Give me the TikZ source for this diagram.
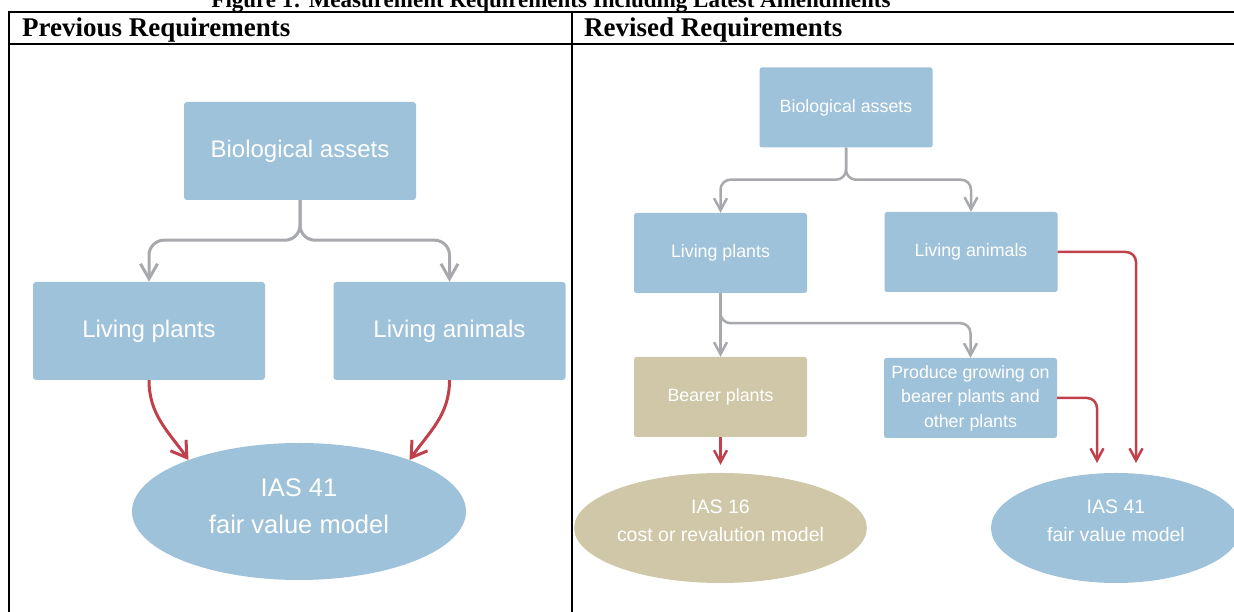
\documentclass[tikz,border=0pt]{standalone}
\usepackage{fontspec}
\setmainfont{Liberation Serif}
\newfontfamily\boxfont{Liberation Sans}
\usetikzlibrary{arrows.meta,shapes.geometric,calc}
\definecolor{boxblue}{HTML}{9EC2D9}
\definecolor{boxtan}{HTML}{CFC7A7}
\definecolor{arrgray}{HTML}{A7A9AC}
\definecolor{arrred}{HTML}{C0414B}
\begin{document}
\begin{tikzpicture}[x=1pt,y=1pt,
  boxL/.style={rectangle, rounded corners=3pt, fill=boxblue, text=white,
    minimum width=232pt, minimum height=98pt, inner sep=0pt,
    font=\boxfont\fontsize{24}{29}\selectfont},
  boxR/.style={rectangle, rounded corners=2.5pt, fill=boxblue, text=white,
    minimum width=173pt, minimum height=80pt, inner sep=0pt, align=center,
    font=\boxfont\fontsize{17.8}{24.5}\selectfont},
  ellBig/.style={ellipse, fill=boxblue, text=white, inner sep=0pt,
    minimum width=334pt, minimum height=137pt, align=center, text depth=11pt,
    font=\boxfont\fontsize{25.5}{36.7}\selectfont},
  ellSmall/.style={ellipse, fill=boxblue, text=white, inner sep=0pt,
    minimum width=250pt, minimum height=110pt, align=center, text depth=15pt,
    font=\boxfont\fontsize{19.5}{27.5}\selectfont},
  grayL/.style={draw=arrgray, line width=3pt, rounded corners=15pt,
    -{Straight Barb[length=15pt,width=17pt,line width=3pt]}},
  grayR/.style={draw=arrgray, line width=2.5pt, rounded corners=10pt,
    -{Straight Barb[length=12pt,width=13pt,line width=2.5pt]}},
  redL/.style={draw=arrred, line width=3pt,
    -{Straight Barb[length=15pt,width=19pt,line width=3pt]}},
  redR/.style={draw=arrred, line width=2.5pt, rounded corners=10pt,
    -{Straight Barb[length=12pt,width=13pt,line width=2.5pt]}},
  tablerule/.style={draw=black, line width=2pt}
]
\useasboundingbox (0,0) rectangle (1234,612);
\clip (0,0) rectangle (1234,612);

% table
\draw[tablerule] (8,600) -- (1234,600);
\draw[tablerule] (8,568) -- (1234,568);
\draw[tablerule] (9,601) -- (9,0);
\draw[tablerule] (572,601) -- (572,0);

\node[anchor=base, inner sep=0pt, font=\bfseries\fontsize{23}{27}\selectfont] (title)
  at (551,604.5) {Figure 1: Measurement Requirements Including Latest Amendments};
\node[anchor=base west, inner sep=0pt, font=\bfseries\fontsize{27}{30}\selectfont] (h1)
  at (22,575) {Previous Requirements};
\node[anchor=base west, inner sep=0pt, font=\bfseries\fontsize{27}{30}\selectfont] (h2)
  at (584,575) {Revised Requirements};

% left panel
\node[boxL] (bioL) at (300,461) {Biological assets};
\node[boxL] (lpL) at (149,281) {Living plants};
\node[boxL] (laL) at (449.5,281) {Living animals};
\node[ellBig] (ellL) at (299,100.5) {IAS 41\\fair value model};

\draw[grayL] (bioL.south) -- ++(0,-40) -| (lpL.north);
\draw[grayL] (bioL.south) -- ++(0,-40) -| (laL.north);
\draw[redL] (lpL.south) to[out=-90,in=125] (ellL.155);
\draw[redL] (laL.south) to[out=-90,in=55] (ellL.25);

% right panel
\node[boxR] (bioR) at (846,504.5) {Biological assets};
\node[boxR] (lpR) at (720.5,359) {Living plants};
\node[boxR] (laR) at (971,360) {Living animals};
\node[boxR, fill=boxtan] (bear) at (720.5,215) {Bearer plants};
\node[boxR] (prod) at (970.5,214) {Produce growing on\\bearer plants and\\other plants};
\node[ellSmall, fill=boxtan] (e16) at (720.5,84) {IAS 16\\cost or revalution model};
\node[ellSmall] (e41) at (1116,84) {IAS 41\\fair value model};

\coordinate (in1) at (1097,149);
\coordinate (in2) at (1136,149);

\draw[grayR] (bioR.south) -- ++(0,-32) -| (lpR.north);
\draw[grayR] (bioR.south) -- ++(0,-32) -| (laR.north);
\draw[grayR] (lpR.south) -- (bear.north);
\draw[grayR] (lpR.south) -- ++(0,-30) -| (prod.north);
\draw[redR] (bear.south) -- ([yshift=8pt]e16.north);
\draw[redR] (prod.east) -| (in1);
\draw[redR] (laR.east) -| (in2);
\end{tikzpicture}
\end{document}
